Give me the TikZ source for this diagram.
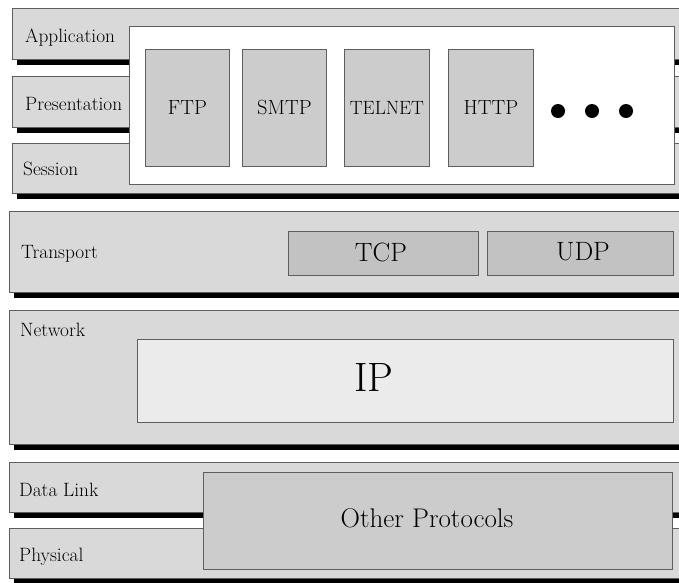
\documentclass[tikz,border=0pt]{standalone}
\usepackage{fontspec}
\usetikzlibrary{shadows}
\definecolor{layerfill}{HTML}{D9D9D9}
\definecolor{protofill}{HTML}{CCCCCC}
\definecolor{tcpfill}{HTML}{C2C2C2}
\definecolor{ipfill}{HTML}{EBEBEB}
\definecolor{edge}{HTML}{5E5E5E}
\newcommand\fs[1]{\fontsize{#1}{#1}\selectfont}
\begin{document}
\begin{tikzpicture}[x=1pt,y=-1pt,
  box/.style={draw=edge, line width=0.9pt, inner sep=0pt, anchor=north west},
  layer/.style={box, fill=layerfill,
    drop shadow={opacity=1, fill=black, shadow xshift=5pt, shadow yshift=-6pt}},
  proto/.style={box, fill=protofill, font=\fs{20.5}},
  tp/.style={box, fill=tcpfill},
  lbl/.style={anchor=base west, inner sep=0pt, font=\fs{19.3}},
  dot/.style={circle, fill=black, inner sep=0pt, minimum size=14pt}]
\useasboundingbox (0,0) rectangle (679,582);
% layers
\node[layer, minimum width=670pt, minimum height=51pt] (app) at (12,8) {};
\node[layer, minimum width=670pt, minimum height=51pt] (pres) at (12,76) {};
\node[layer, minimum width=670pt, minimum height=50pt] (sess) at (12,143) {};
\node[layer, minimum width=673pt, minimum height=81pt] (trans) at (9,211) {};
\node[layer, minimum width=673pt, minimum height=134pt] (net) at (9,310) {};
\node[layer, minimum width=673pt, minimum height=50pt] (dl) at (9,462) {};
\node[layer, minimum width=673pt, minimum height=50pt] (phys) at (9,528) {};
% layer labels
\node[lbl] (lapp) at (25,42) {Application};
\node[lbl] (lpres) at (25,110) {Presentation};
\node[lbl] (lsess) at (23,175) {Session};
\node[lbl] (ltrans) at (21,258) {Transport};
\node[lbl] (lnet) at (20,336) {Network};
\node[lbl] (ldl) at (19,496) {Data Link};
\node[lbl] (lphys) at (19,561) {Physical};
% application protocols
\node[box, fill=white, minimum width=545pt, minimum height=158pt] (appbox) at (129,26) {};
\node[proto, minimum width=84pt, minimum height=117pt] (ftp) at (145,49) {FTP};
\node[proto, minimum width=84pt, minimum height=117pt] (smtp) at (242,49) {SMTP};
\node[proto, minimum width=85pt, minimum height=117pt, font=\fs{19.2}] (telnet) at (344,49) {TELNET};
\node[proto, minimum width=85pt, minimum height=117pt] (http) at (448,49) {HTTP};
\node[dot] (d1) at (558,111) {};
\node[dot] (d2) at (592,111) {};
\node[dot] (d3) at (626,111) {};
% transport
\node[tp, minimum width=190pt, minimum height=44pt] (tcp) at (288,231) {};
\node[tp, minimum width=186pt, minimum height=44pt] (udp) at (487,231) {};
\node[font=\fs{26.5}, inner sep=0pt] (tcpt) at (381,252) {TCP};
\node[font=\fs{26.5}, inner sep=0pt] (udpt) at (583,252) {UDP};
% network
\node[box, fill=ipfill, minimum width=536pt, minimum height=83pt] (ip) at (137,339) {};
\node[font=\fs{41}, inner sep=0pt] (ipt) at (374,377) {IP};
% link
\node[box, fill=protofill, minimum width=469pt, minimum height=97pt] (other) at (203,472) {};
\node[font=\fs{27}, inner sep=0pt] (othert) at (427,518) {Other Protocols};
\end{tikzpicture}
\end{document}
